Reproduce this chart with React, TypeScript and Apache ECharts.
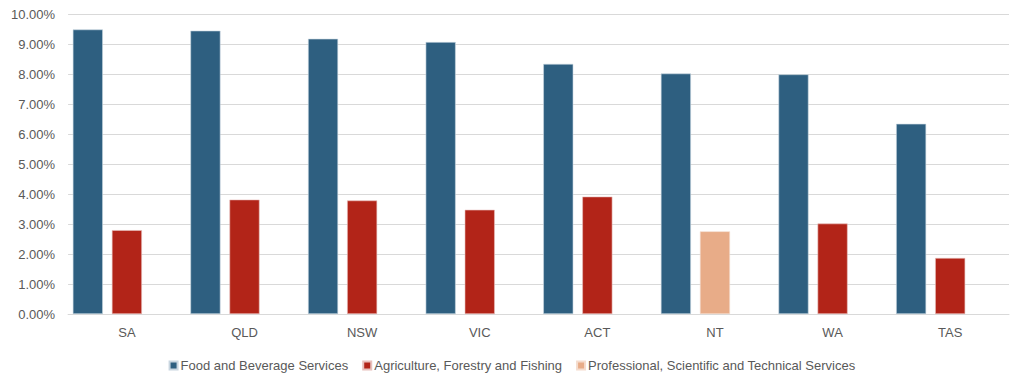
import React, { useEffect, useRef } from "react";
import * as echarts from "echarts";

const categories = ["SA", "QLD", "NSW", "VIC", "ACT", "NT", "WA", "TAS"];
const foodBeverage = [9.5, 9.46, 9.19, 9.08, 8.35, 8.03, 8.0, 6.35];
const agriculture: (number | string)[] = [2.8, 3.82, 3.79, 3.48, 3.92, "-", 3.02, 1.87];
const professional: (number | string)[] = ["-", "-", "-", "-", "-", 2.76, "-", "-"];
const seriesNames = [
  "Food and Beverage Services",
  "Agriculture, Forestry and Fishing",
  "Professional, Scientific and Technical Services",
];
const yTicks = { min: 0, max: 10, interval: 1 };

export default function App() {
  const ref = useRef<HTMLDivElement>(null);
  useEffect(() => {
    if (!ref.current) return;
    const chart = echarts.init(ref.current, undefined, { renderer: "svg" });
    const font = "Liberation Sans, Arial, sans-serif";
    chart.setOption({
      animation: false,
      textStyle: { fontFamily: font },
      grid: { left: 55, right: 7, top: 5, bottom: 77, containLabel: false },
      legend: {
        data: seriesNames,
        top: 346,
        left: "center",
        itemWidth: 8,
        itemHeight: 8,
        itemGap: 14,
        icon: "rect",
        textStyle: { color: "#595959", fontSize: 13, fontFamily: font, padding: [0, 0, 0, -2] },
      },
      xAxis: {
        type: "category",
        data: categories,
        axisLine: { lineStyle: { color: "#d9d9d9" } },
        axisTick: { show: false },
        axisLabel: { color: "#595959", fontSize: 13, margin: 12 },
      },
      yAxis: {
        type: "value",
        min: yTicks.min,
        max: yTicks.max,
        interval: yTicks.interval,
        axisLine: { show: false },
        axisTick: { show: false },
        splitLine: { lineStyle: { color: "#d9d9d9" } },
        axisLabel: {
          color: "#595959",
          fontSize: 13,
          margin: 13,
          formatter: (v: number) => v.toFixed(2) + "%",
        },
      },
      series: [
        {
          name: seriesNames[0],
          type: "bar",
          data: foodBeverage,
          barGap: "30%",
          barCategoryGap: "8%",
          itemStyle: { color: "#2E5F80", borderColor: "#c9d6e0", borderWidth: 0.6 },
        },
        {
          name: seriesNames[1],
          type: "bar",
          stack: "second",
          data: agriculture,
          itemStyle: { color: "#B22418", borderColor: "#e8c0bc", borderWidth: 0.6 },
        },
        {
          name: seriesNames[2],
          type: "bar",
          stack: "second",
          data: professional,
          itemStyle: { color: "#E8AC88", borderColor: "#f5dccd", borderWidth: 0.6 },
        },
        {
          name: "spacer",
          type: "bar",
          data: categories.map(() => "-"),
          itemStyle: { color: "transparent" },
        },
      ],
    });
    return () => chart.dispose();
  }, []);
  return <div ref={ref} style={{ width: 1008, height: 383 }} />;
}
